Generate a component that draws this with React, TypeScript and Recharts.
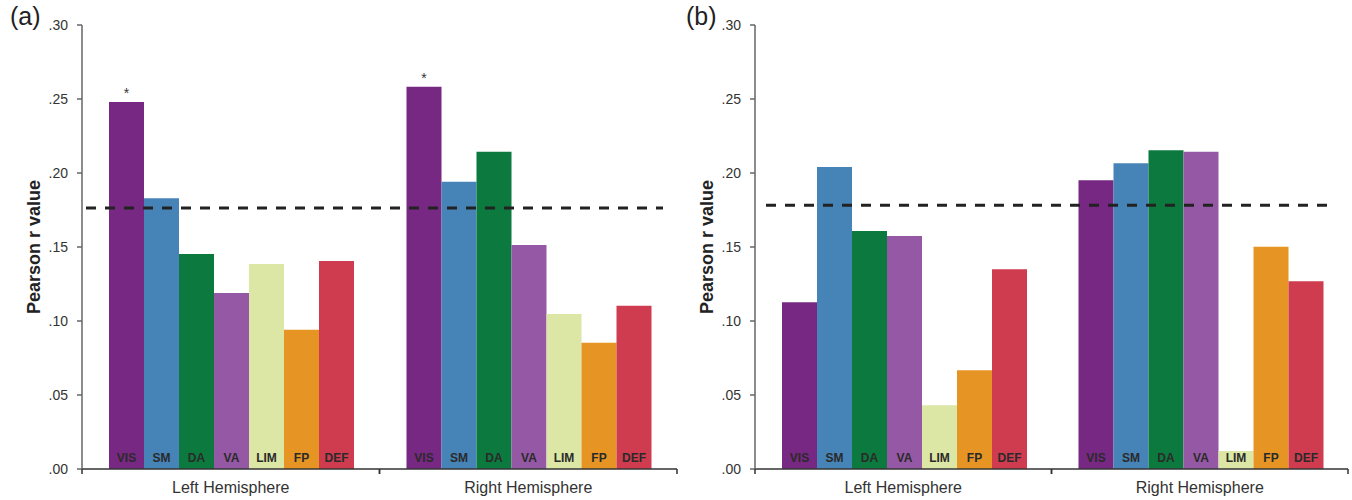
import { BarChart, Bar, XAxis, YAxis, ReferenceLine, LabelList } from 'recharts';

const hemispheres = ['Left Hemisphere', 'Right Hemisphere'];
const networks = ['VIS', 'SM', 'DA', 'VA', 'LIM', 'FP', 'DEF'];
const networkColors = ['#772882', '#4683b6', '#0c7a3e', '#9558a4', '#dce6a5', '#e69424', '#cf3c4f'];
const yTicks = [0, 0.05, 0.1, 0.15, 0.2, 0.25, 0.3];

// panel (a)
const aLeft = [0.248, 0.183, 0.1453, 0.119, 0.1385, 0.0941, 0.1405];
const aRight = [0.2583, 0.1941, 0.2144, 0.1514, 0.1047, 0.0853, 0.1103];
const aThreshold = 0.1764;
const aStars = [true, true];

// panel (b)
const bLeft = [0.1126, 0.2041, 0.1608, 0.1574, 0.043, 0.0667, 0.1349];
const bRight = [0.1951, 0.2066, 0.2154, 0.2144, 0.0122, 0.1502, 0.1268];
const bThreshold = 0.1782;
const bStars = [false, false];

const FONT = '"Liberation Sans", Arial, Helvetica, sans-serif';

const buildRows = (left: number[], right: number[]) =>
  hemispheres.map((h, i) => {
    const vals = i === 0 ? left : right;
    const row: Record<string, string | number> = { hemi: h };
    networks.forEach((n, j) => (row[n] = vals[j]));
    return row;
  });

const fmtTick = (v: number) => v.toFixed(2).replace(/^0/, '');

const HemiTick = (props: any) => {
  const { x, y, payload } = props;
  const half = payload?.offset ?? 0;
  return (
    <g>
      <line x1={x - half} x2={x - half} y1={y - 6} y2={y - 1} stroke="#333" strokeWidth={1.5} />
      <line x1={x + half} x2={x + half} y1={y - 6} y2={y - 1} stroke="#333" strokeWidth={1.5} />
      <text x={x} y={y + 18} textAnchor="middle" fill="#333" fontSize={16} fontFamily={FONT}>
        {payload.value}
      </text>
    </g>
  );
};

interface PanelProps {
  left: number[];
  right: number[];
  threshold: number;
  stars: boolean[];
  width: number;
  axisWidth: number;
  labelX: number;
  rightMargin: number;
  lineInset: [number, number];
}

function Panel({ left, right, threshold, stars, width, axisWidth, labelX, rightMargin, lineInset }: PanelProps) {
  const data = buildRows(left, right);
  return (
    <BarChart
      width={width}
      height={500}
      data={data}
      margin={{ top: 25, right: rightMargin, bottom: 1, left: 0 }}
      barCategoryGap={27}
      barGap={0}
    >
      <XAxis
        dataKey="hemi"
        height={30}
        axisLine={{ stroke: '#333', strokeWidth: 1.5 }}
        tickLine={false}
        tickSize={6}
        tickMargin={0}
        tick={<HemiTick />}
        interval={0}
      />
      <YAxis
        width={axisWidth}
        domain={[0, 0.3]}
        ticks={yTicks}
        tickFormatter={fmtTick}
        axisLine={{ stroke: '#666', strokeWidth: 1.5 }}
        tickLine={{ stroke: '#666', strokeWidth: 1.5 }}
        tickSize={5}
        tickMargin={9}
        tick={{ fill: '#333', fontSize: 14, fontFamily: FONT }}
        label={(p: any) => {
          const vb = p.viewBox;
          const cy = vb.y + vb.height / 2;
          return (
            <text
              x={vb.x + labelX}
              y={cy}
              transform={`rotate(-90, ${vb.x + labelX}, ${cy})`}
              textAnchor="middle"
              dominantBaseline="central"
              fill="#222"
              fontSize={18}
              fontWeight="bold"
              fontFamily={FONT}
            >
              Pearson r value
            </text>
          );
        }}
      />
      {networks.map((n, j) => (
        <Bar key={n} dataKey={n} fill={networkColors[j]} isAnimationActive={false}>
          <LabelList
            dataKey={n}
            content={(p: any) => (
              <text
                x={p.x + p.width / 2}
                y={p.y + p.height - 7}
                textAnchor="middle"
                fill="#2a2a2a"
                fontSize={12}
                fontWeight="bold"
                fontFamily={FONT}
              >
                {n}
              </text>
            )}
          />
          {j === 0 && (
            <LabelList
              dataKey={n}
              content={(p: any) =>
                stars[p.index] ? (
                  <text
                    x={p.x + p.width / 2}
                    y={p.y - 4}
                    textAnchor="middle"
                    fill="#333"
                    fontSize={14}
                    fontFamily={FONT}
                  >
                    *
                  </text>
                ) : null
              }
            />
          )}
        </Bar>
      ))}
      <ReferenceLine
        y={threshold}
        stroke="#222"
        strokeWidth={3}
        strokeDasharray="10 9"
        shape={(p: any) => (
          <line
            x1={p.x1 + lineInset[0]}
            x2={p.x2 - lineInset[1]}
            y1={p.y1}
            y2={p.y2}
            stroke="#222"
            strokeWidth={3}
            strokeDasharray="10 9"
          />
        )}
      />
    </BarChart>
  );
}

export default function App() {
  return (
    <div
      style={{
        position: 'absolute',
        left: 0,
        top: 0,
        width: 1352,
        height: 500,
        background: '#fff',
        fontFamily: FONT,
      }}
    >
      <div style={{ position: 'absolute', left: 0, top: 0 }}>
        <Panel
          left={aLeft}
          right={aRight}
          threshold={aThreshold}
          stars={aStars}
          width={680}
          axisWidth={82}
          labelX={34}
          rightMargin={3}
          lineInset={[4, 14]}
        />
      </div>
      <div style={{ position: 'absolute', left: 680, top: 0 }}>
        <Panel
          left={bLeft}
          right={bRight}
          threshold={bThreshold}
          stars={bStars}
          width={672}
          axisWidth={75}
          labelX={27}
          rightMargin={4}
          lineInset={[11, 15]}
        />
      </div>
      <div style={{ position: 'absolute', left: 10, top: 2, fontSize: 25, color: '#222' }}>(a)</div>
      <div style={{ position: 'absolute', left: 686, top: 2, fontSize: 25, color: '#222' }}>(b)</div>
    </div>
  );
}
